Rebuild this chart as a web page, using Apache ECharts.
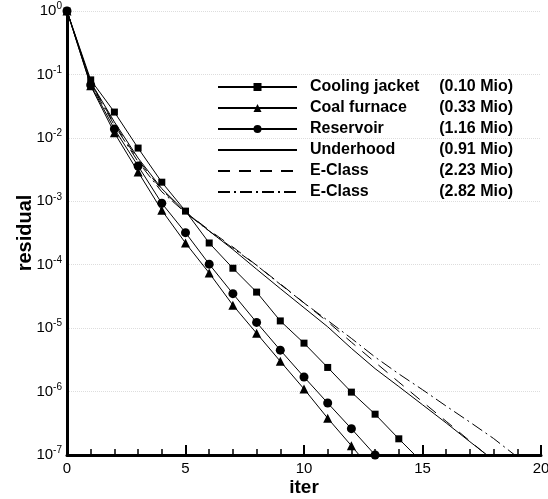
<!DOCTYPE html>
<html>
<head>
<meta charset="utf-8">
<script src="https://cdn.jsdelivr.net/npm/echarts@6/dist/echarts.min.js"></script>
<style>
  html, body { margin: 0; padding: 0; background: #fff; }
  #chart { width: 548px; height: 499px; }
</style>
</head>
<body>
<div id="chart"></div>
<script>
// iteration numbers
var iters = [0, 1, 2, 3, 4, 5, 6, 7, 8, 9, 10, 11, 12, 13, 14, 15, 16, 17, 18, 19];

// residuals
var coolingJacket = [1, 8.2e-2, 2.55e-2, 6.9e-3, 2.0e-3, 7.0e-4, 2.2e-4, 8.8e-5, 3.7e-5, 1.3e-5,
    5.8e-6, 2.4e-6, 9.8e-7, 4.4e-7, 1.8e-7, 7.6e-8];
var coalFurnace = [1, 6.6e-2, 1.2e-2, 2.9e-3, 7.2e-4, 2.2e-4, 7.4e-5, 2.3e-5, 8.3e-6, 3.0e-6,
    1.1e-6, 3.8e-7, 1.4e-7, 5.0e-8];
var reservoir = [1, 6.8e-2, 1.38e-2, 3.6e-3, 9.3e-4, 3.2e-4, 1.02e-4, 3.5e-5, 1.23e-5, 4.5e-6,
    1.7e-6, 6.6e-7, 2.6e-7, 1.0e-7];
var underhood = [1, 7.6e-2, 1.78e-2, 4.8e-3, 1.58e-3, 6.8e-4, 3.4e-4, 1.74e-4, 8.5e-5, 4.2e-5,
    2.1e-5, 1.05e-5, 4.8e-6, 2.3e-6, 1.2e-6, 6.2e-7, 3.2e-7, 1.62e-7, 8.3e-8];
var eClass223 = [1, 7.4e-2, 1.66e-2, 4.5e-3, 1.51e-3, 6.8e-4, 3.5e-4, 1.9e-4, 9.8e-5, 5.0e-5,
    2.5e-5, 1.26e-5, 6.0e-6, 2.9e-6, 1.41e-6, 6.9e-7, 3.4e-7, 1.66e-7, 8.1e-8];
var eClass282 = [1, 7.1e-2, 1.58e-2, 4.2e-3, 1.41e-3, 6.6e-4, 3.4e-4, 1.82e-4, 9.8e-5, 4.9e-5,
    2.5e-5, 1.32e-5, 6.9e-6, 3.5e-6, 1.9e-6, 1.07e-6, 5.9e-7, 3.3e-7, 1.82e-7, 9.3e-8];

var names = ['Cooling jacket', 'Coal furnace', 'Reservoir', 'Underhood', 'E-Class', 'E-Class'];
var sizes = ['(0.10 Mio)', '(0.33 Mio)', '(1.16 Mio)', '(0.91 Mio)', '(2.23 Mio)', '(2.82 Mio)'];

var font = 'Liberation Sans, Arial, sans-serif';

function pairs(vals){
    return vals.map(function (v, i) { return [iters[i], v]; });
}

function make_series(idx, vals, symbol, size, lineType){
    return {
        type: 'line',
        name: names[idx] + '|' + sizes[idx],
        data: pairs(vals),
        symbol: symbol,
        symbolSize: size,
        showSymbol: symbol != 'none',
        clip: true,
        animation: false,
        itemStyle: { color: '#000' },
        lineStyle: { color: '#000', width: 1, type: lineType }
    };
}

var series = [
    make_series(0, coolingJacket, 'rect', 7, 'solid'),
    make_series(1, coalFurnace, 'triangle', 9, 'solid'),
    make_series(2, reservoir, 'circle', 9, 'solid'),
    make_series(3, underhood, 'none', 0, 'solid'),
    make_series(4, eClass223, 'none', 0, [12, 9]),
    make_series(5, eClass282, 'none', 0, [12, 4, 2, 4])
];

// legend entries: no marker for the plain lines
var legendData = series.map(function (s) {
    if (s.symbol == 'none') {
        return { name: s.name, itemStyle: { color: 'rgba(0,0,0,0)', borderWidth: 0 } };
    }
    return { name: s.name };
});

var option = {
    backgroundColor: '#fff',
    animation: false,
    textStyle: { fontFamily: font },
    grid: { left: 67, right: 7, top: 11, bottom: 44, outerBoundsMode: 'none', containLabel: false },
    legend: {
        orient: 'vertical',
        left: 212,
        top: 74,
        itemWidth: 79,
        itemHeight: 10,
        itemGap: 5,
        selectedMode: false,
        data: legendData,
        formatter: function (name) {
            var p = name.split('|');
            return '{n|' + p[0] + '}{m|' + p[1] + '}';
        },
        textStyle: {
            rich: {
                n: { fontFamily: font, fontSize: 16, fontWeight: 'bold', color: '#000',
                     width: 123, padding: [0, 0, 0, 8] },
                m: { fontFamily: font, fontSize: 16, fontWeight: 'bold', color: '#000',
                     width: 80, align: 'right' }
            }
        }
    },
    xAxis: {
        type: 'value',
        min: 0,
        max: 20,
        interval: 5,
        name: 'iter',
        nameLocation: 'middle',
        nameGap: 23,
        nameMoveOverlap: false,
        nameTextStyle: { fontFamily: font, fontSize: 19, fontWeight: 'bold', color: '#000' },
        axisLine: { onZero: false, lineStyle: { color: '#000', width: 3 } },
        axisTick: { inside: true, length: 10, lineStyle: { color: '#000', width: 2 } },
        minorTick: { show: true, splitNumber: 5, length: 6, lineStyle: { color: '#000', width: 1.5 } },
        axisLabel: { fontFamily: font, fontSize: 15, color: '#000', margin: 6, alignMaxLabel: 'center' },
        splitLine: { show: false }
    },
    yAxis: {
        type: 'log',
        logBase: 10,
        min: 1e-7,
        max: 1,
        name: 'residual',
        nameLocation: 'middle',
        nameRotate: 90,
        nameGap: 32,
        nameMoveOverlap: false,
        nameTextStyle: { fontFamily: font, fontSize: 20, fontWeight: 'bold', color: '#000' },
        axisLine: { show: true, onZero: false, lineStyle: { color: '#000', width: 3 } },
        axisTick: { show: false },
        axisLabel: {
            margin: 5,
            formatter: function (value) {
                var e = Math.round(Math.log10(value));
                return '{b|10}{s|' + e + '}';
            },
            rich: {
                b: { fontFamily: font, fontSize: 15, color: '#000' },
                s: { fontFamily: font, fontSize: 10, color: '#000', padding: [0, 0, 9, 0] }
            }
        },
        splitLine: { show: true, lineStyle: { color: '#ddd', type: 'dotted', width: 1 } }
    },
    series: series
};

var myChart = echarts.init(document.getElementById('chart'), null, { renderer: 'canvas' });
myChart.setOption(option);
</script>
</body>
</html>
